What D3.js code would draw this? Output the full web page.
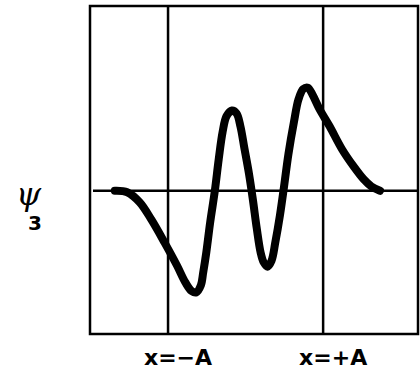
<!DOCTYPE html>
<html>
<head>
<meta charset="utf-8">
<script src="https://cdn.jsdelivr.net/npm/d3@7"></script>
<style>
  body { margin: 0; background: #fff; }
  svg { display: block; }
</style>
</head>
<body>
<div id="viz"></div>
<script>
// position in units of A, and the psi_3 value
var xs = [-1.68, -1.52, -1.36, -1.21, -1.04, -0.88, -0.77, -0.69, -0.63, -0.57, -0.54, -0.50, -0.45, -0.39,
          -0.34, -0.29, -0.24, -0.17, -0.11, -0.06, -0.01, 0.05, 0.10, 0.15, 0.20, 0.24, 0.29, 0.34, 0.39,
          0.45, 0.50, 0.56, 0.63, 0.69, 0.75, 0.81, 0.87, 0.96, 1.09, 1.25, 1.40, 1.53, 1.63, 1.74];
var psi = [0, -0.01, -0.08, -0.20, -0.36, -0.52, -0.64, -0.70, -0.71, -0.66, -0.57, -0.43, -0.22, 0,
           0.22, 0.41, 0.52, 0.56, 0.54, 0.45, 0.30, 0.12, -0.06, -0.26, -0.43, -0.50, -0.53, -0.49, -0.36,
           -0.17, 0.02, 0.26, 0.48, 0.64, 0.71, 0.72, 0.67, 0.57, 0.45, 0.29, 0.17, 0.08, 0.03, 0];
var tickVals = [-1, 1];
var tickLabels = ['x=\u2212A', 'x=+A'];
var yLabel = '\u03c8';
var ySub = '3';

var margin = {top: 6, right: 2, bottom: 40, left: 90},
    width = 420 - margin.left - margin.right,
    height = 374 - margin.top - margin.bottom;

var svg = d3.select('#viz').append('svg')
    .attr('width', 420)
    .attr('height', 374)
    .append('g')
    .attr('transform', 'translate(' + margin.left + ',' + margin.top + ')');

var x = d3.scaleLinear().domain([-2.0, 2.23]).range([0, width]);
var y = d3.scaleLinear().domain([-1.0, 1.29]).range([height, 0]);

// vertical lines at x = -A and x = +A, with labels
var x_axis = svg.append('g')
    .attr('transform', 'translate(0,' + height + ')')
    .call(d3.axisBottom(x).tickValues(tickVals).tickSize(height)
      .tickFormat(function(d, i) { return tickLabels[i]; }));
x_axis.select('.domain').remove();
x_axis.selectAll('line')
    .attr('y2', -height)
    .style('stroke', '#000')
    .style('stroke-width', 2.5);
x_axis.selectAll('text')
    .attr('y', 31)
    .attr('dx', 10)
    .attr('dy', 0)
    .style('font-family', 'DejaVu Sans')
    .style('font-weight', 'bold')
    .style('font-size', '22px')
    .style('fill', '#000');

// frame
svg.append('rect')
    .attr('x', 0)
    .attr('y', 0)
    .attr('width', width)
    .attr('height', height)
    .attr('fill', 'none')
    .attr('stroke', '#000')
    .attr('stroke-width', 2.5);

// zero line
svg.append('line')
    .attr('x1', 3)
    .attr('x2', width)
    .attr('y1', y(0))
    .attr('y2', y(0))
    .attr('stroke', '#000')
    .attr('stroke-width', 2.5);

// the wavefunction
var data = xs.map(function(d, i) { return {x: d, v: psi[i]}; });
var valueline = d3.line()
    .x(function(d) { return x(d.x); })
    .y(function(d) { return y(d.v); })
    .curve(d3.curveCatmullRom.alpha(0.5));

svg.append('path')
    .datum(data)
    .attr('d', valueline)
    .attr('fill', 'none')
    .attr('stroke', '#000')
    .attr('stroke-width', 8)
    .attr('stroke-linecap', 'round')
    .attr('stroke-linejoin', 'round');

// y label
d3.select('svg').append('text')
    .attr('x', 16)
    .attr('y', 205)
    .style('font-family', 'DejaVu Serif')
    .style('font-style', 'italic')
    .style('font-size', '32px')
    .style('fill', '#000')
    .text(yLabel);
d3.select('svg').append('text')
    .attr('x', 28)
    .attr('y', 230)
    .style('font-family', 'DejaVu Sans')
    .style('font-weight', 'bold')
    .style('font-size', '20px')
    .style('fill', '#000')
    .text(ySub);
</script>
</body>
</html>
